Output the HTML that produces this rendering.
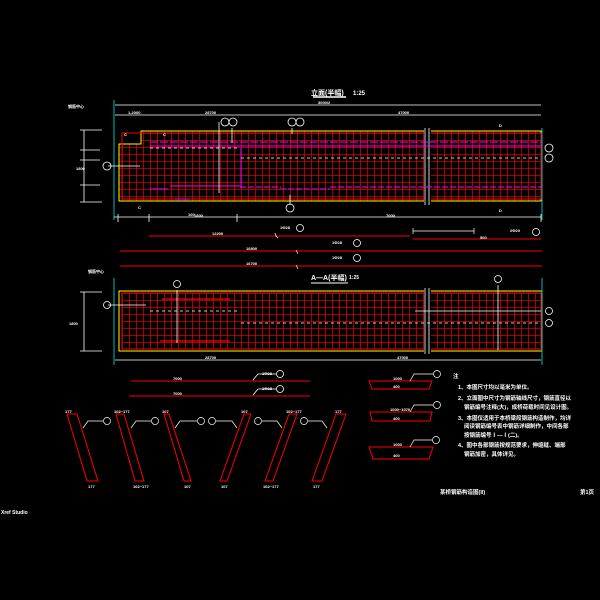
<!DOCTYPE html>
<html><head><meta charset="utf-8"><style>
html,body{margin:0;padding:0;background:#000;width:600px;height:600px;overflow:hidden}
svg text{font-family:"Liberation Sans","Noto Sans CJK SC",sans-serif;fill:#fff;font-weight:bold}
</style></head><body>
<svg width="600" height="600" viewBox="0 0 600 600" xmlns="http://www.w3.org/2000/svg">
<defs>
<pattern id="g1" x="122" y="133" width="7" height="7" patternUnits="userSpaceOnUse">
<path d="M0 0V7M0 0H7" stroke="#f00" stroke-width="1.3" fill="none"/></pattern>
<pattern id="g2" x="122" y="293" width="7" height="7" patternUnits="userSpaceOnUse">
<path d="M0 0V7M0 0H7" stroke="#f00" stroke-width="1.3" fill="none"/></pattern>
</defs>
<rect width="600" height="600" fill="#000"/>

<!-- PLAN VIEW -->
<text x="311" y="95" font-size="7">立面(半幅)</text><text x="353" y="95" font-size="6">1:25</text>
<line x1="313" y1="97" x2="346" y2="97" stroke="#fff" stroke-width="1.5"/>
<line x1="115" y1="105" x2="541" y2="105" stroke="#fff" stroke-width="0.8"/>
<text x="318" y="104" font-size="4">3000/2</text>
<line x1="115" y1="115" x2="541" y2="115" stroke="#fff" stroke-width="0.8"/>
<text x="205" y="114" font-size="4">28700</text><text x="398" y="114" font-size="4">47000</text>
<line x1="114" y1="100" x2="114" y2="220" stroke="#0cc" stroke-width="0.9"/>
<line x1="542" y1="128" x2="542" y2="220" stroke="#0cc" stroke-width="0.9"/>
<path d="M141 131H541V201H119V144H141Z" fill="url(#g1)" stroke="#ff0" stroke-width="1"/>
<rect x="122" y="133" width="419" height="66" fill="none" stroke="#f00" stroke-width="1"/>
<rect x="424" y="128" width="7" height="76" fill="#000"/>
<line x1="425" y1="128" x2="425" y2="205" stroke="#fff" stroke-width="0.8"/>
<line x1="429" y1="128" x2="429" y2="205" stroke="#fff" stroke-width="0.8"/>
<g stroke="#f0f" stroke-width="1" fill="none">
<path d="M150 142H541" stroke-dasharray="8 2"/>
<path d="M150 146H541"/>
<path d="M241 148V188"/><path d="M240 187H281M280 189H330M330 187H541" stroke-dasharray="6 2"/>
<path d="M170 186H240" /><path d="M150 189H168" />
<path d="M175 199H190"/>
</g>
<g stroke="#fff" stroke-width="0.8" fill="none">
<path d="M150 148H240" stroke-dasharray="3 3"/>
<path d="M241 158H541" stroke-dasharray="3 3"/>
<path d="M108 166H140"/>
<path d="M219 122V193"/><path d="M232 128V143"/><path d="M292 128V134"/><path d="M290 195V205"/>
<path d="M114 217H541"/><path d="M118 214V222M149 214V222M237 214V222M541 214V222"/>
<path d="M84 130V202M80 130H102M80 202H102M80 150H100M80 160H100M80 185H100"/>
</g>
<g fill="none" stroke="#fff" stroke-width="0.8">
<circle cx="225" cy="122" r="4"/><circle cx="233" cy="122" r="4"/><circle cx="292" cy="122" r="4"/><circle cx="300" cy="122" r="4"/>
<circle cx="290" cy="208" r="4"/><circle cx="549" cy="148" r="4"/><circle cx="549" cy="158" r="4"/><circle cx="107" cy="166" r="4"/>
</g>
<g font-size="4"><text x="188" y="216">100</text><text x="194" y="217">1800</text><text x="386" y="217">7000</text>
<text x="68" y="108">钢筋中心</text><text x="76" y="170">1800</text><text x="128" y="114">1-2000</text>
<text x="124" y="136">C</text><text x="138" y="209">C</text><text x="163" y="136">C</text><text x="499" y="127">D</text><text x="499" y="212">D</text></g>

<g stroke="#f00" stroke-width="1">
<path d="M149 236H410"/><path d="M413 239H541"/><path d="M120 251H542"/><path d="M120 266H542"/></g>
<g stroke="#fff" stroke-width="0.7" fill="none"><path d="M413 228V234M474 228V234M413 231H474"/>
<path d="M275 233L276 236L278 238"/><path d="M296 250L298 254"/><path d="M296 265L298 269"/></g>
<g font-size="4"><text x="212" y="235">12200</text><text x="280" y="229">1Φ28</text><text x="246" y="250">16800</text><text x="246" y="265">16700</text>
<text x="332" y="244">1Φ28</text><text x="332" y="259">1Φ28</text><text x="510" y="232">2Φ20</text><text x="480" y="239">500</text></g>
<g fill="none" stroke="#fff" stroke-width="0.8"><circle cx="300" cy="228" r="3.5"/><circle cx="357" cy="243" r="3.5"/><circle cx="357" cy="258" r="3.5"/><circle cx="536" cy="232" r="3.5"/></g>

<!-- SECTION A-A -->
<text x="311" y="280" font-size="7">A—A(半幅)</text><text x="349" y="279" font-size="5">1:25</text>
<line x1="311" y1="283" x2="348" y2="283" stroke="#fff" stroke-width="1"/>
<rect x="119" y="291" width="423" height="60" fill="none" stroke="#ff0" stroke-width="1"/>
<rect x="122" y="293" width="419" height="56" fill="url(#g2)" stroke="#f00" stroke-width="1"/>
<rect x="424" y="288" width="7" height="66" fill="#000"/>
<line x1="425" y1="288" x2="425" y2="354" stroke="#fff" stroke-width="0.8"/>
<line x1="429" y1="288" x2="429" y2="354" stroke="#fff" stroke-width="0.8"/>
<line x1="114" y1="278" x2="114" y2="365" stroke="#0cc" stroke-width="0.9"/>
<line x1="542" y1="278" x2="542" y2="365" stroke="#0cc" stroke-width="0.9"/>
<g stroke="#f00" stroke-width="1.2"><path d="M162 299H230"/><path d="M160 341H230"/></g>
<g stroke="#fff" stroke-width="0.8" fill="none">
<path d="M108 305H146"/><path d="M150 311H240" stroke-dasharray="3 3"/><path d="M241 323H541" stroke-dasharray="3 3"/>
<path d="M177 290V343"/><path d="M498 285V350"/><path d="M415 311H541"/>
<path d="M115 360H541"/><path d="M84 292V351M80 292H102M80 351H102"/>
</g>
<g fill="none" stroke="#fff" stroke-width="0.8"><circle cx="177" cy="284" r="3.5"/><circle cx="498" cy="279" r="3.5"/><circle cx="107" cy="305" r="3.5"/><circle cx="549" cy="311" r="3.5"/><circle cx="549" cy="323" r="3.5"/></g>
<g font-size="4"><text x="205" y="359">28700</text><text x="397" y="359">47000</text><text x="69" y="325">1800</text><text x="88" y="273">钢筋中心</text></g>

<g stroke="#f00" stroke-width="1"><path d="M131 381H310"/><path d="M129 396H310"/></g>
<g font-size="4"><text x="173" y="380">7000</text><text x="173" y="395">7000</text><text x="262" y="375">1Φ28</text><text x="262" y="390">1Φ28</text></g>
<g fill="none" stroke="#fff" stroke-width="0.8"><circle cx="280" cy="374" r="3.5"/><circle cx="280" cy="389" r="3.5"/>
<path d="M253 380L258 374H276M253 395L258 389H276"/></g>

<g fill="none" stroke="#f00" stroke-width="1">
<path d="M67 414H77L98 481H87Z"/><path d="M116 414H124L144 481H135Z"/><path d="M164 414H169L191 481H184Z"/>
<path d="M244 414H251L227 481H220Z"/><path d="M289 414H297L273 481H265Z"/><path d="M336 414H346L322 481H312Z"/></g>
<g fill="none" stroke="#fff" stroke-width="0.7">
<circle cx="107" cy="421" r="3.5"/><circle cx="155" cy="421" r="3.5"/><circle cx="201" cy="421" r="3.5"/>
<circle cx="212" cy="421" r="3.5"/><circle cx="258" cy="421" r="3.5"/><circle cx="304" cy="421" r="3.5"/>
<path d="M83 428L88 421H103M131 428L136 421H151M175 428L180 421H197M237 428L232 421H216M282 428L277 421H262M327 428L322 421H308"/></g>
<g font-size="4"><text x="65" y="413">177</text><text x="114" y="413">102~177</text><text x="162" y="413">107</text><text x="241" y="413">107</text><text x="286" y="413">102~177</text><text x="335" y="413">177</text>
<text x="88" y="488">177</text><text x="133" y="488">102~177</text><text x="184" y="488">107</text><text x="221" y="488">107</text><text x="263" y="488">102~177</text><text x="313" y="488">177</text></g>

<g fill="none" stroke="#f00" stroke-width="1">
<path d="M369 381H432L429 389H372Z"/><path d="M370 412H432L430 421H372Z"/><path d="M369 447H433L429 459H373Z"/></g>
<g fill="none" stroke="#fff" stroke-width="0.7"><circle cx="437" cy="374" r="3.5"/><circle cx="437" cy="405" r="3.5"/><circle cx="436" cy="440" r="3.5"/>
<path d="M410 381L414 374H433M410 412L414 405H433M410 447L414 440H432"/></g>
<g font-size="4"><text x="393" y="380">1000</text><text x="390" y="411">1000~1070</text><text x="393" y="446">1000</text><text x="393" y="388">400</text><text x="393" y="420">400</text><text x="393" y="457">400</text></g>

<g font-size="5.5"><text x="453" y="378">注</text>
<text x="458" y="389">1、本图尺寸均以毫米为单位。</text>
<text x="458" y="400">2、立面图中尺寸为钢筋轴线尺寸，钢筋直径以</text>
<text x="464" y="409">钢筋编号注释(大)，成桥荷载时间见设计图。</text>
<text x="458" y="420">3、本图仅适用于本桥梁段钢筋构造制作，均详</text>
<text x="464" y="428">阅读钢筋编号表中钢筋详细制作，中间各部</text>
<text x="464" y="437">按钢筋编号Ⅰ—Ⅰ(二)。</text>
<text x="458" y="447">4、图中各部钢筋按规范要求，伸缩缝、端部</text>
<text x="464" y="456">钢筋加密，具体详见。</text>
<text x="440" y="494">某桥钢筋构造图(II)</text><text x="580" y="494">第1页</text>
</g>
<text x="1" y="514" font-size="5">Xref Studio</text>
</svg>
</body></html>
